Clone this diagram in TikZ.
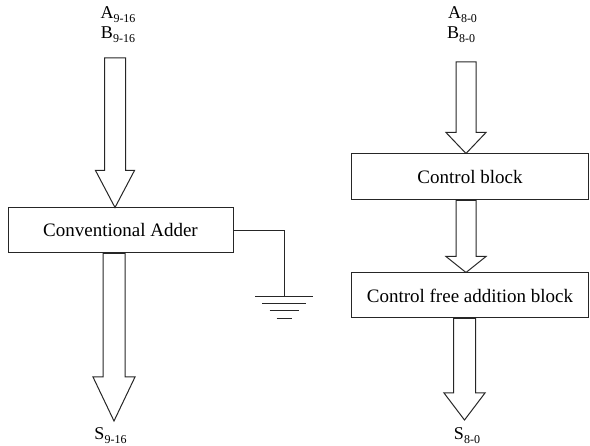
\documentclass[tikz,border=0pt]{standalone}
\usepackage{fontspec}
\setmainfont{Liberation Serif}
\usetikzlibrary{calc}
\newcommand\mysub[1]{\raisebox{-0.22em}{\fontsize{12}{12}\selectfont #1}}
\newcommand\bigarrow[5]{% start, tip, shaft half width, head half width, head length
  \draw[ln, line join=miter] let \p1=(#1), \p2=(#2) in
    (\x1-#3,\y1) -- (\x1-#3,\y2+#5) -- (\x1-#4,\y2+#5) -- (\x1,\y2)
    -- (\x1+#4,\y2+#5) -- (\x1+#3,\y2+#5) -- (\x1+#3,\y1) -- cycle;}
\tikzset{
  ln/.style={draw=black!85, line width=1pt},
  blk/.style={ln, rectangle, minimum height=45pt, inner sep=0pt, font=\fontsize{19}{22}\selectfont},
  lbl/.style={inner sep=0pt, anchor=base, font=\fontsize{18}{20}\selectfont},
}
\begin{document}
\begin{tikzpicture}[x=1pt, y=-1pt]
\useasboundingbox (0,0) rectangle (590,446);
% blocks
\node[blk, minimum width=225pt] (ca) at (120.5,230.5) {Conventional Adder};
\node[blk, minimum width=237pt, minimum height=46pt] (cb) at (470,177) {Control block};
\node[blk, minimum width=237pt] (cf) at (470,295.5) {Control free addition block};
% labels
\node[lbl] (a1) at (118,19) {A\mysub{9-16}};
\node[lbl] (b1) at (118,39) {B\mysub{9-16}};
\node[lbl] (a2) at (462.5,19) {A\mysub{8-0}};
\node[lbl] (b2) at (461,39) {B\mysub{8-0}};
\node[lbl] (s1) at (110.5,440) {S\mysub{9-16}};
\node[lbl] (s2) at (467,440) {S\mysub{8-0}};
% arrow coordinates
\coordinate (t1) at (115,58);
\coordinate (x2) at (114,0);
\coordinate (tip2) at (114,421);
\coordinate (t3) at (466,62);
\coordinate (x4) at (464.5,0);
\coordinate (tip4) at (464.5,420);
% block arrows
\bigarrow{t1}{t1 |- ca.north}{10.5pt}{19.5pt}{37pt}
\bigarrow{x2 |- ca.south}{tip2}{11pt}{21pt}{44pt}
\bigarrow{t3}{t3 |- cb.north}{10pt}{20pt}{21pt}
\bigarrow{t3 |- cb.south}{t3 |- cf.north}{10pt}{20pt}{16pt}
\bigarrow{x4 |- cf.south}{tip4}{11pt}{20.5pt}{27pt}
% ground
\coordinate (g) at (284,297);
\draw[ln] (ca.east) -| (g);
\draw[ln] ($(g)+(-29,0)$) -- ++(58,0);
\draw[ln] ($(g)+(-22,7)$) -- ++(44,0);
\draw[ln] ($(g)+(-14.5,14)$) -- ++(29,0);
\draw[ln] ($(g)+(-7.5,22)$) -- ++(15,0);
\end{tikzpicture}
\end{document}
